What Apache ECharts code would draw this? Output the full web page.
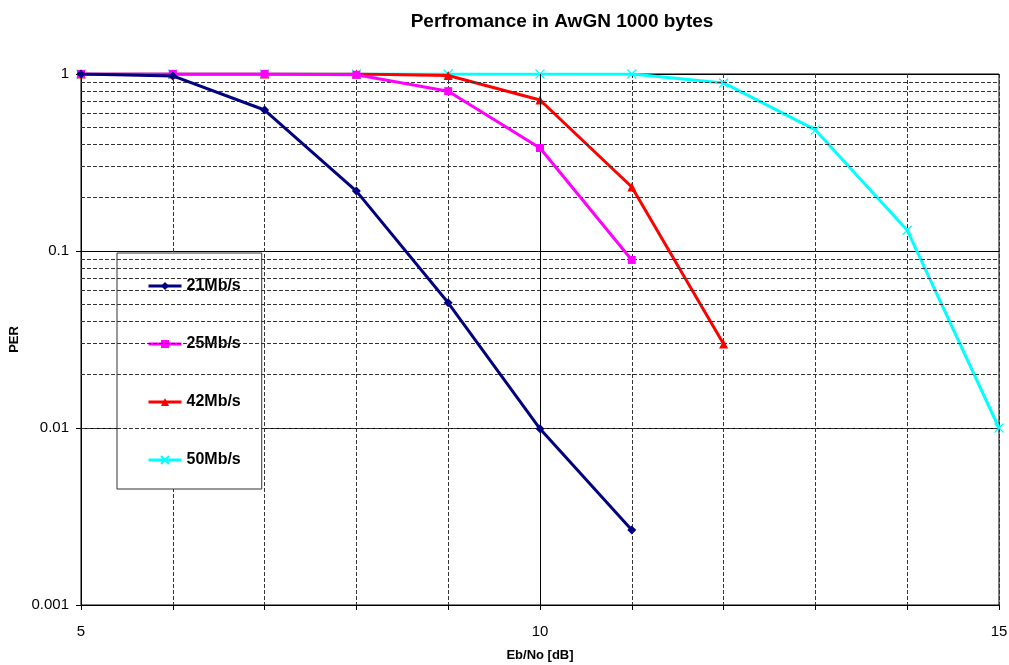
<!DOCTYPE html>
<html><head><meta charset="utf-8">
<script src="https://cdn.jsdelivr.net/npm/echarts@6/dist/echarts.min.js"></script>
<style>html,body{margin:0;padding:0;background:#fff}#c{width:1009px;height:665px}</style>
</head><body><div id="c"></div>
<script>
const xValues = [5, 6, 7, 8, 9, 10, 11, 12, 13, 14, 15];
const per21 = [1, 0.975, 0.626, 0.218, 0.051, 0.0099, 0.00265];
const per25 = [1, 1, 1, 0.99, 0.80, 0.382, 0.089];
const per42 = [1, 1, 1, 1, 0.98, 0.713, 0.23, 0.0298];
const per50 = [1, 1, 1, 1, 1, 1, 1, 0.89, 0.483, 0.131, 0.01];
const seriesNames = ['21Mb/s', '25Mb/s', '42Mb/s', '50Mb/s'];
const minorY = [0.002,0.003,0.004,0.005,0.006,0.007,0.008,0.009,
  0.02,0.03,0.04,0.05,0.06,0.07,0.08,0.09,
  0.2,0.3,0.4,0.5,0.6,0.7,0.8,0.9];
const xTickLabels = [5, 10, 15];

const font = 'Liberation Sans, Arial, sans-serif';
const pairs = arr => arr.map((v, i) => [xValues[i], v]);
const xPath = 'path://M0,0L10,10M10,0L0,10';

const chart = echarts.init(document.getElementById('c'), null, {renderer: 'canvas'});
chart.setOption({
  animation: false,
  backgroundColor: '#fff',
  title: {text: 'Perfromance in AwGN 1000 bytes', left: 557, top: 7, textAlign: 'center',
    textStyle: {fontFamily: font, fontWeight: 'bold', fontSize: 19, color: '#000'}},
  grid: {left: 81, right: 10, top: 74, bottom: 60, show: true, borderColor: '#000', borderWidth: 1,
    containLabel: false, outerBoundsMode: 'none'},
  legend: {
    orient: 'vertical', left: 117, top: 253,
    padding: [25, 21, 21, 30], itemGap: 42, itemWidth: 33, itemHeight: 10,
    backgroundColor: '#fff', borderColor: '#333', borderWidth: 1,
    lineStyle: {width: 3},
    textStyle: {fontFamily: font, fontWeight: 'bold', fontSize: 16, color: '#000'},
    data: seriesNames
  },
  xAxis: {
    type: 'value', min: 5, max: 15, interval: 1,
    name: 'Eb/No [dB]', nameLocation: 'middle', nameGap: 44,
    nameTextStyle: {fontFamily: font, fontWeight: 'bold', fontSize: 13, color: '#000'},
    axisLine: {lineStyle: {color: '#000', width: 1}},
    axisTick: {show: true, length: 5, lineStyle: {color: '#000'}},
    axisLabel: {fontFamily: font, fontSize: 15, color: '#000', margin: 19,
      formatter: v => xTickLabels.indexOf(v) >= 0 ? String(v) : ''},
    splitLine: {show: true, lineStyle: {color: '#333', type: [4, 2], width: 1}}
  },
  yAxis: {
    type: 'log', logBase: 10, min: 0.001, max: 1,
    name: 'PER', nameLocation: 'middle', nameGap: 58, nameRotate: 90,
    nameTextStyle: {fontFamily: font, fontWeight: 'bold', fontSize: 13, color: '#000'},
    axisLine: {show: true, lineStyle: {color: '#000', width: 1}},
    axisTick: {show: true, length: 5, lineStyle: {color: '#000'}},
    axisLabel: {fontFamily: font, fontSize: 15, color: '#000', margin: 12,
      formatter: v => String(+v.toPrecision(3))},
    splitLine: {show: true, lineStyle: {color: '#000', width: 1}}
  },
  series: [
    {name: '__grid', type: 'line', data: [], silent: true,
      markLine: {silent: true, symbol: 'none', label: {show: false},
        lineStyle: {color: '#333', type: [4, 2], width: 1},
        data: minorY.map(v => ({yAxis: v})).concat([{xAxis: 10, lineStyle: {color: '#000', type: 'solid', width: 1}}])}},
    {name: seriesNames[3], type: 'line', data: pairs(per50), color: '#00FFFF',
      lineStyle: {width: 3}, symbol: xPath, symbolSize: 9,
      itemStyle: {color: '#00FFFF', borderColor: '#00FFFF', borderWidth: 1.2}, z: 3},
    {name: seriesNames[2], type: 'line', data: pairs(per42), color: '#FF0000',
      lineStyle: {width: 3}, symbol: 'triangle', symbolSize: 9, itemStyle: {color: '#FF0000'}, z: 4},
    {name: seriesNames[1], type: 'line', data: pairs(per25), color: '#FF00FF',
      lineStyle: {width: 3}, symbol: 'rect', symbolSize: 8, itemStyle: {color: '#FF00FF'}, z: 5},
    {name: seriesNames[0], type: 'line', data: pairs(per21), color: '#000080',
      lineStyle: {width: 3}, symbol: 'diamond', symbolSize: 9, itemStyle: {color: '#000080'}, z: 6}
  ]
});
</script></body></html>
